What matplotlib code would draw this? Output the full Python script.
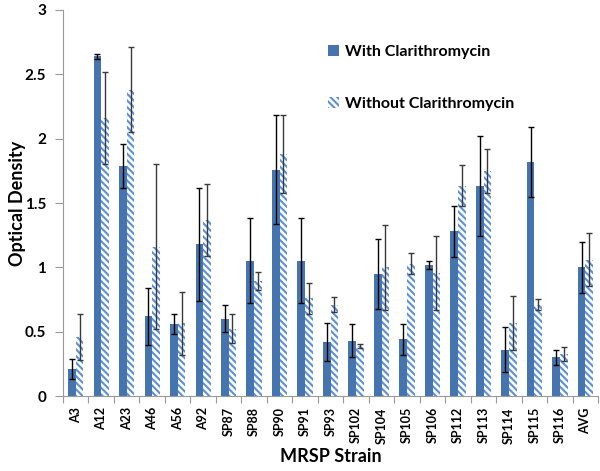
import numpy as np
import matplotlib
matplotlib.use("Agg")
import matplotlib.pyplot as plt

plt.rcParams['font.family'] = ['Lato', 'DejaVu Sans']
plt.rcParams['font.weight'] = 'bold'
plt.rcParams['axes.labelweight'] = 'bold'
plt.rcParams['hatch.linewidth'] = 1.5

strains = ["A3", "A12", "A23", "A46", "A56", "A92", "SP87", "SP88", "SP90", "SP91",
           "SP93", "SP102", "SP104", "SP105", "SP106", "SP112", "SP113", "SP114",
           "SP115", "SP116", "AVG"]
with_cla = [0.21, 2.64, 1.79, 0.62, 0.56, 1.18, 0.60, 1.05, 1.76, 1.05, 0.42,
            0.43, 0.95, 0.44, 1.02, 1.28, 1.63, 0.36, 1.82, 0.30, 1.00]
with_err = [0.08, 0.02, 0.17, 0.22, 0.075, 0.44, 0.105, 0.33, 0.42, 0.33, 0.15,
            0.13, 0.27, 0.12, 0.03, 0.20, 0.39, 0.175, 0.27, 0.055, 0.20]
without_cla = [0.46, 2.16, 2.38, 1.16, 0.565, 1.37, 0.525, 0.895, 1.88, 0.76, 0.71,
               0.39, 1.00, 1.03, 0.955, 1.635, 1.75, 0.57, 0.71, 0.33, 1.06]
without_err = [0.18, 0.36, 0.33, 0.64, 0.245, 0.28, 0.11, 0.07, 0.30, 0.12, 0.06,
               0.015, 0.33, 0.08, 0.29, 0.16, 0.17, 0.21, 0.045, 0.055, 0.205]

solid = '#4674AE'
stripe = '#5B90D8'

fig = plt.figure(figsize=(6, 4.71), dpi=100)
ax = fig.add_axes([0.105, 0.159, 0.892, 0.820])

x = np.arange(len(strains))
w = 0.3
ax.bar(x - w/2, with_cla, w, color=solid, label='With Clarithromycin', zorder=2)
ax.bar(x + w/2, without_cla, w, facecolor='white', edgecolor=stripe, linewidth=0,
       hatch='\\\\\\\\\\', label='Without Clarithromycin', zorder=2)
ax.errorbar(x - w/2, with_cla, yerr=with_err, fmt='none', ecolor='black',
            elinewidth=1, capsize=2.5, capthick=1, zorder=3)
ax.errorbar(x + w/2, without_cla, yerr=without_err, fmt='none', ecolor='#3a3a3a',
            elinewidth=1, capsize=2.5, capthick=1, zorder=3)

ax.set_xlim(-0.5, len(strains) - 0.5)
ax.set_ylim(0, 3)
ax.set_yticks([0, 0.5, 1, 1.5, 2, 2.5, 3])
ax.set_yticklabels(['0', '0.5', '1', '1.5', '2', '2.5', '3'], fontweight='bold')
ax.tick_params(axis='y', length=6, color='#999999', labelsize=11, pad=6)

ax.set_xticks(np.arange(len(strains) + 1) - 0.5)
ax.set_xticklabels([])
ax.tick_params(axis='x', which='major', length=5, color='#999999')
ax.set_xticks(x, minor=True)
ax.set_xticklabels(strains, minor=True, rotation=90, fontsize=9, fontweight='bold')
ax.tick_params(axis='x', which='minor', length=0, pad=8)

for s in ['top', 'right']:
    ax.spines[s].set_visible(False)
for s in ['left', 'bottom']:
    ax.spines[s].set_color('#999999')

ax.set_ylabel('Optical Density', fontsize=13, fontweight='bold', labelpad=-1)
ax.set_xlabel('MRSP Strain', fontsize=13, fontweight='bold', labelpad=3)

ax.legend(loc='upper left', bbox_to_anchor=(0.495, 0.91), frameon=False,
          prop={'size': 11.5, 'weight': 'bold'}, handlelength=0.7, handleheight=0.7,
          handletextpad=0.35, labelspacing=2.4, borderpad=0, borderaxespad=0)

fig.savefig('out.png', dpi=100)
